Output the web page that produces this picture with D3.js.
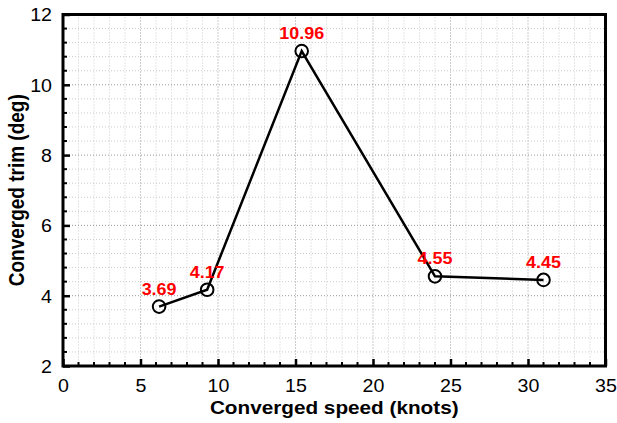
<!DOCTYPE html>
<html><head><meta charset="utf-8">
<script src="https://cdn.jsdelivr.net/npm/d3@7"></script>
<style>body{margin:0;background:#fff}svg{display:block}text{font-family:"Liberation Sans",Arial,sans-serif}</style>
</head><body>
<svg id="c" width="617" height="423"></svg>
<script>
const speeds = [6.2, 9.3, 15.4, 24.0, 31.0];
const trims = [3.69, 4.17, 10.96, 4.55, 4.45];
const pointLabels = ["3.69", "4.17", "10.96", "4.55", "4.45"];
const xTicks = [0, 5, 10, 15, 20, 25, 30, 35];
const yTicks = [2, 4, 6, 8, 10, 12];
const xTitle = "Converged speed (knots)";
const yTitle = "Converged trim (deg)";

const svg = d3.select("#c");
const L = 63, R = 605.5, T = 14.5, B = 366;
const STRETCH = 1.12;
const x = d3.scaleLinear().domain([0, 35]).range([L, R]);
const y = d3.scaleLinear().domain([2, 12]).range([B, T]);

function stretch(sel) {
  sel.each(function() {
    const w = this.getComputedTextLength();
    d3.select(this).attr("textLength", w * STRETCH).attr("lengthAdjust", "spacingAndGlyphs");
  });
}

const g = svg.append("g");
const xMinor = d3.range(0, 35.01, 1);
const yMinor = d3.range(2, 12.01, 0.4);
g.selectAll(".gx").data(xMinor).join("line")
  .attr("x1", d => x(d)).attr("x2", d => x(d)).attr("y1", T).attr("y2", B)
  .attr("stroke", d => (Math.abs(d % 5) < 1e-6) ? "#999" : "#ccc")
  .attr("stroke-width", 1).attr("stroke-dasharray", "1,2");
g.selectAll(".gy").data(yMinor).join("line")
  .attr("y1", d => y(d)).attr("y2", d => y(d)).attr("x1", L).attr("x2", R)
  .attr("stroke", d => (Math.abs(Math.round(d*10) % 20) < 1e-6) ? "#999" : "#ccc")
  .attr("stroke-width", 1).attr("stroke-dasharray", "1,2");

const xAxis = d3.axisBottom(x).tickValues(xTicks).tickSize(-7).tickFormat(d3.format("d")).tickPadding(14);
const yAxis = d3.axisLeft(y).tickValues(yTicks).tickSize(-7).tickFormat(d3.format("d")).tickPadding(11);
const xa = svg.append("g").attr("transform", `translate(0,${B})`).call(xAxis);
const ya = svg.append("g").attr("transform", `translate(${L},0)`).call(yAxis);
[xa, ya].forEach(a => {
  a.select(".domain").remove();
  a.selectAll(".tick line").attr("stroke", "#000").attr("stroke-width", 2.5);
  a.selectAll(".tick text").attr("font-size", 17.5).attr("fill", "#000");
});
xa.selectAll(".tick text").attr("dy", "0.71em");
ya.selectAll(".tick text").attr("dy", "0.36em");
stretch(xa.selectAll(".tick text"));
stretch(ya.selectAll(".tick text"));
svg.append("g").selectAll("line").data(xMinor.filter(d => d % 5 !== 0)).join("line")
  .attr("x1", d => x(d)).attr("x2", d => x(d)).attr("y1", B).attr("y2", B - 4)
  .attr("stroke", "#000").attr("stroke-width", 2);
svg.append("g").selectAll("line").data(yMinor.filter(d => Math.round(d*10) % 20 !== 0)).join("line")
  .attr("y1", d => y(d)).attr("y2", d => y(d)).attr("x1", L).attr("x2", L + 4)
  .attr("stroke", "#000").attr("stroke-width", 2);

svg.append("rect").attr("x", L).attr("y", T).attr("width", R - L).attr("height", B - T)
  .attr("fill", "none").attr("stroke", "#000").attr("stroke-width", 3);

const data = speeds.map((s, i) => ({s, t: trims[i], l: pointLabels[i]}));
svg.append("path").datum(data)
  .attr("d", d3.line().x(d => x(d.s)).y(d => y(d.t)))
  .attr("fill", "none").attr("stroke", "#000").attr("stroke-width", 2.5);
svg.append("g").selectAll("circle").data(data).join("circle")
  .attr("cx", d => x(d.s)).attr("cy", d => y(d.t)).attr("r", 6.3)
  .attr("fill", "none").attr("stroke", "#000").attr("stroke-width", 2);
const pl = svg.append("g").selectAll("text").data(data).join("text")
  .attr("x", d => x(d.s)).attr("y", d => y(d.t) - 12)
  .attr("text-anchor", "middle").attr("font-size", 16).attr("font-weight", "bold")
  .attr("fill", "#ff0000").text(d => d.l);
stretch(pl);

const xt = svg.append("text").attr("x", (L + R) / 2).attr("y", 414).attr("text-anchor", "middle")
  .attr("font-size", 18.5).attr("font-weight", "bold").text(xTitle);
stretch(xt);
svg.append("text").attr("transform", `translate(24,${(T + B) / 2}) rotate(-90) scale(1,1.15)`)
  .attr("text-anchor", "middle").attr("font-size", 19).attr("font-weight", "bold").text(yTitle);
</script>
</body></html>
